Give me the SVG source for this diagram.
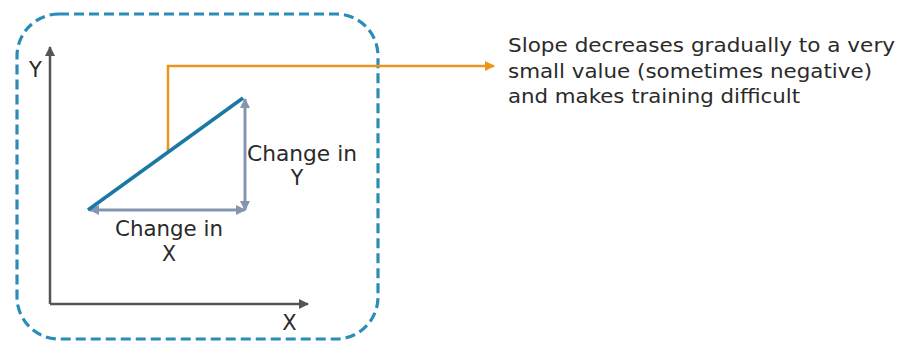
<svg xmlns="http://www.w3.org/2000/svg" width="900" height="345" viewBox="0 0 900 345">
<style>
text{font-family:"DejaVu Sans","Liberation Sans",sans-serif;fill:#2a2a2a}
.lbl{font-size:20.5px}
.ax{font-size:21px}
.note{font-size:20px}
.axis{stroke:#555;stroke-width:2.5;fill:none}
.gray{stroke:#8595b0;stroke-width:3;fill:none}
</style>
<defs>
<marker id="ah" viewBox="0 0 10 10" refX="9" refY="5" markerWidth="11" markerHeight="10" orient="auto" markerUnits="userSpaceOnUse"><path d="M0,0 L10,5 L0,10 z" fill="#555"/></marker>
<marker id="gh" viewBox="0 0 10 10" refX="9" refY="5" markerWidth="10" markerHeight="10" orient="auto-start-reverse" markerUnits="userSpaceOnUse"><path d="M0,0 L10,5 L0,10 z" fill="#8595b0"/></marker>
<marker id="oh" viewBox="0 0 10 10" refX="9" refY="5" markerWidth="10" markerHeight="10" orient="auto" markerUnits="userSpaceOnUse"><path d="M0,0 L10,5 L0,10 z" fill="#e8961e"/></marker>
</defs>
<rect id="frame" x="17" y="14" width="361" height="325" rx="42" fill="none" stroke="#2b8cb8" stroke-width="3.2" stroke-dasharray="10,5"/>
<g id="axes">
<line class="axis" x1="50" y1="304" x2="50" y2="47" marker-end="url(#ah)"/>
<line class="axis" x1="50" y1="304" x2="308" y2="304" marker-end="url(#ah)"/>
<text class="ax" x="35.5" y="77" text-anchor="middle">Y</text>
<text class="ax" x="289.5" y="330" text-anchor="middle">X</text>
</g>
<g id="connectors">
<line class="gray" x1="90" y1="210" x2="245" y2="210" marker-start="url(#gh)" marker-end="url(#gh)"/>
<line class="gray" x1="245" y1="99" x2="245" y2="210" marker-start="url(#gh)" marker-end="url(#gh)"/>
<polyline points="168,152 168,66 494,66" fill="none" stroke="#e8961e" stroke-width="2.5" marker-end="url(#oh)"/>
</g>
<g id="slope">
<line x1="88" y1="210" x2="243" y2="98" stroke="#1a78a4" stroke-width="3.5"/>
</g>
<g id="dy">
<text class="lbl" x="247" y="161" textLength="110" lengthAdjust="spacingAndGlyphs">Change in</text>
<text class="lbl" x="297" y="185" text-anchor="middle">Y</text>
</g>
<g id="dx">
<text class="lbl" x="115" y="236" textLength="108" lengthAdjust="spacingAndGlyphs">Change in</text>
<text class="lbl" x="169" y="261" text-anchor="middle">X</text>
</g>
<g id="note">
<text class="note" x="508" y="52" textLength="387" lengthAdjust="spacingAndGlyphs">Slope decreases gradually to a very</text>
<text class="note" x="508" y="78" textLength="364" lengthAdjust="spacingAndGlyphs">small value (sometimes negative)</text>
<text class="note" x="508" y="103" textLength="292" lengthAdjust="spacingAndGlyphs">and makes training difficult</text>
</g>
</svg>
